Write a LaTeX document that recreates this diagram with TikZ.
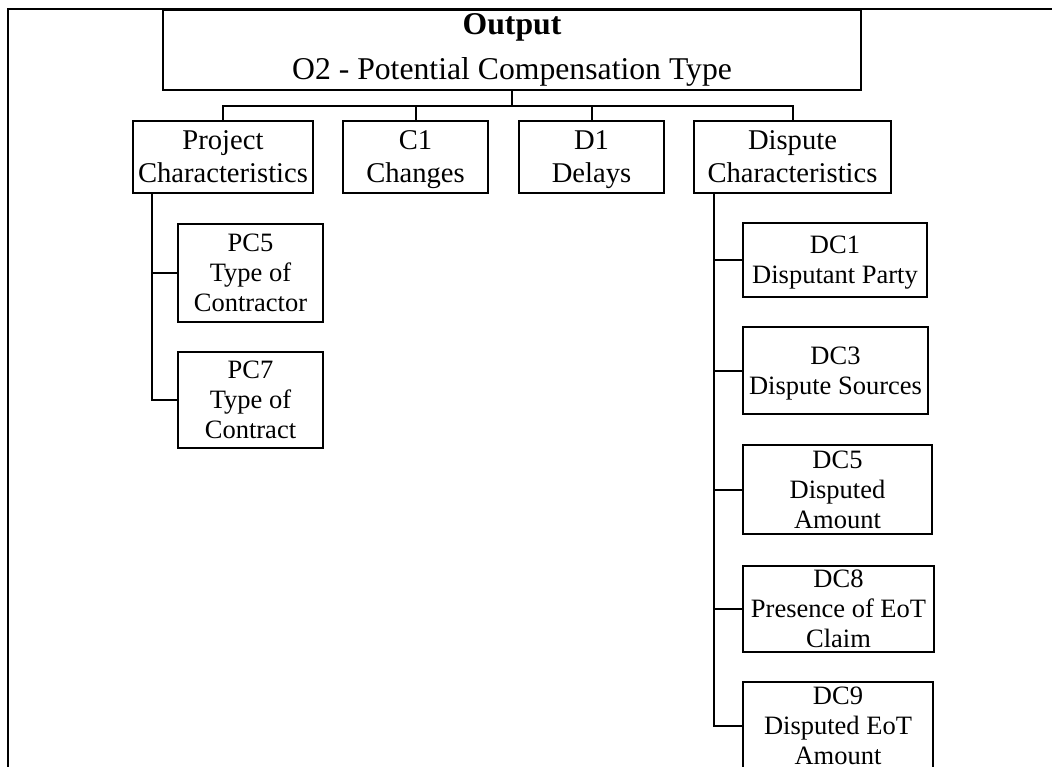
\documentclass[tikz,border=0pt]{standalone}
\usepackage{fontspec}
\setmainfont{Liberation Serif}
\begin{document}
\begin{tikzpicture}[x=1pt,y=-1pt,
  box/.style={draw, line width=1.4pt, inner sep=0pt, align=center},
  topbox/.style={box, font=\fontsize{31.7}{45}\selectfont},
  groupbox/.style={box, minimum height=72pt, font=\fontsize{28.6}{33}\selectfont},
  itembox/.style={box, font=\fontsize{26.5}{30}\selectfont},
  link/.style={line width=2pt}]
\clip (0,0) rectangle (1052,767);
\fill[white] (0,0) rectangle (1052,767);

% frame
\draw[line width=1.6pt] (8,767) -- (8,9) -- (1052,9);

% output
\node[topbox, minimum width=698pt, minimum height=80pt] (out) at (512,50)
  {\textbf{Output}\\O2 - Potential Compensation Type};

% groups (descenders on the last line are smashed so the text sits centred)
\node[groupbox, minimum width=180pt] (pc) at (223,157) {Project\\Characteristics};
\node[groupbox, minimum width=145pt] (c1) at (415.5,157) {C1\\\smash{Changes}};
\node[groupbox, minimum width=145pt] (d1) at (591.5,157) {D1\\\smash{Delays}};
\node[groupbox, minimum width=197pt] (dc) at (792.5,157) {Dispute\\Characteristics};

% project characteristics items
\node[itembox, minimum width=145pt, minimum height=98pt] (pc5) at (250.5,273) {PC5\\Type of\\Contractor};
\node[itembox, minimum width=145pt, minimum height=96pt] (pc7) at (250.5,400) {PC7\\Type of\\Contract};

% dispute characteristics items
\node[itembox, minimum width=184pt, minimum height=74pt] (dc1) at (835,260) {DC1\\\smash{Disputant Party}};
\node[itembox, minimum width=185pt, minimum height=87pt] (dc3) at (835.5,370.5) {DC3\\\smash{Dispute Sources}};
\node[itembox, minimum width=189pt, minimum height=89pt] (dc5) at (837.5,489.5) {DC5\\Disputed\\Amount};
\node[itembox, minimum width=191pt, minimum height=86pt] (dc8) at (838.5,609) {DC8\\Presence of EoT\\Claim};
\node[itembox, minimum width=190pt, minimum height=88pt] (dc9) at (838,726) {DC9\\Disputed EoT\\Amount};

% tree connectors
\coordinate (bus) at (512,106);
\draw[link] (out.south) -- (bus);
\draw[link] (pc.north) |- (bus) -| (dc.north);
\draw[link] (c1.north) -- (c1.north |- bus);
\draw[link] (d1.north) -- (d1.north |- bus);

\coordinate (pcspine) at (152,193);
\draw[link] (pcspine) |- (pc7.west);
\draw[link] (pcspine |- pc5.west) -- (pc5.west);

\coordinate (dcspine) at (714,193);
\draw[link] (dcspine) |- (dc9.west);
\foreach \n in {dc1,dc3,dc5,dc8}
  \draw[link] (dcspine |- \n.west) -- (\n.west);
\end{tikzpicture}
\end{document}
